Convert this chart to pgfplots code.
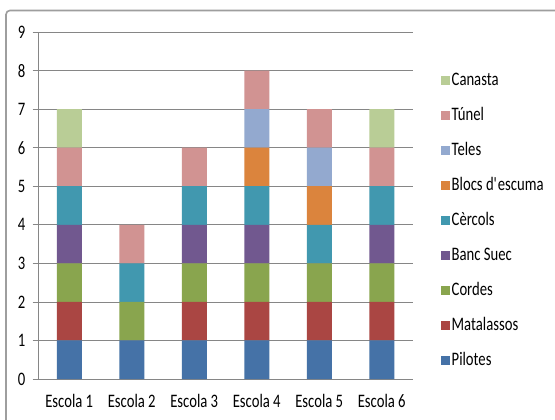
\documentclass[border=0pt]{standalone}
\usepackage{pgfplots}
\pgfplotsset{compat=1.18}
\usepackage{pgfplotstable}
\usepackage{fontspec}
\setmainfont{Carlito}[FakeStretch=0.77]
\definecolor{cPil}{HTML}{4572A7}
\definecolor{cMat}{HTML}{AA4643}
\definecolor{cCor}{HTML}{89A54E}
\definecolor{cBan}{HTML}{71588F}
\definecolor{cCer}{HTML}{4198AF}
\definecolor{cBlo}{HTML}{DB843D}
\definecolor{cTel}{HTML}{93A9CF}
\definecolor{cTun}{HTML}{D19392}
\definecolor{cCan}{HTML}{B9CD96}
\definecolor{gridc}{HTML}{868686}
\pgfplotstableread{
x Pilotes Matalassos Cordes Banc Cercols Blocs Teles Tunel Canasta
0 1 1 1 1 1 0 0 1 1
1 1 0 1 0 1 0 0 1 0
2 1 1 1 1 1 0 0 1 0
3 1 1 1 1 1 1 1 1 0
4 1 1 1 0 1 1 1 1 0
5 1 1 1 1 1 0 0 1 1
}\datatable
\begin{document}
\begin{tikzpicture}
\useasboundingbox (0pt,0pt) rectangle (416.25pt,314.25pt);
\fill[white] (0pt,0pt) rectangle (416.25pt,314.25pt);
\begin{axis}[
  at={(28.5pt,30pt)}, anchor=south west,
  scale only axis, width=281.25pt, height=260.25pt,
  ybar stacked, bar width=18.75pt,
  xmin=-0.5, xmax=5.5, ymin=0, ymax=9,
  xtick={0,...,5},
  xticklabels={Escola 1,Escola 2,Escola 3,Escola 4,Escola 5,Escola 6},
  extra x ticks={-0.5,0.5,1.5,2.5,3.5,4.5,5.5},
  extra x tick labels={},
  extra x tick style={major tick length=3pt, tick style={draw=gridc, line width=0.6pt}},
  ytick={0,...,9},
  ymajorgrids, grid style={draw=gridc, line width=0.6pt},
  axis x line*=bottom, axis y line*=left,
  axis line style={draw=gridc, line width=0.6pt, -},
  tick align=outside,
  major tick length=4pt,
  tick style={draw=gridc, line width=0.6pt},
  x tick style={draw=none},
  font=\fontsize{14.3}{16}\selectfont,
  tick label style={font=\fontsize{14.3}{16}\selectfont},
  /pgf/number format/assume math mode=true,
  yticklabel style={xshift=-2pt},
  xticklabel style={yshift=-4pt},
  reverse legend,
  legend cell align=left,
  legend style={draw=none, fill=none, at={(1.064,0.894)}, anchor=north west,
    row sep=13.3pt, font=\fontsize{14.3}{16}\selectfont,
    nodes={inner sep=1pt, text height=9pt, text depth=2pt}},
  legend image code/.code={\fill[#1] (0pt,-3.4pt) rectangle (6.8pt,3.4pt);},
  every axis plot/.append style={draw=none},
]
\addplot[fill=cPil] table[x=x,y=Pilotes]{\datatable};
\addlegendentry{Pilotes}
\addplot[fill=cMat] table[x=x,y=Matalassos]{\datatable};
\addlegendentry{Matalassos}
\addplot[fill=cCor] table[x=x,y=Cordes]{\datatable};
\addlegendentry{Cordes}
\addplot[fill=cBan] table[x=x,y=Banc]{\datatable};
\addlegendentry{Banc Suec}
\addplot[fill=cCer] table[x=x,y=Cercols]{\datatable};
\addlegendentry{Cèrcols}
\addplot[fill=cBlo] table[x=x,y=Blocs]{\datatable};
\addlegendentry{Blocs d\textquotesingle escuma}
\addplot[fill=cTel] table[x=x,y=Teles]{\datatable};
\addlegendentry{Teles}
\addplot[fill=cTun] table[x=x,y=Tunel]{\datatable};
\addlegendentry{Túnel}
\addplot[fill=cCan] table[x=x,y=Canasta]{\datatable};
\addlegendentry{Canasta}
\end{axis}
\draw[gridc!80,line width=1.2pt,rounded corners=3pt] (4.5pt,-20pt) -- (4.5pt,306.4pt) -- (450pt,306.4pt);
\end{tikzpicture}
\end{document}
